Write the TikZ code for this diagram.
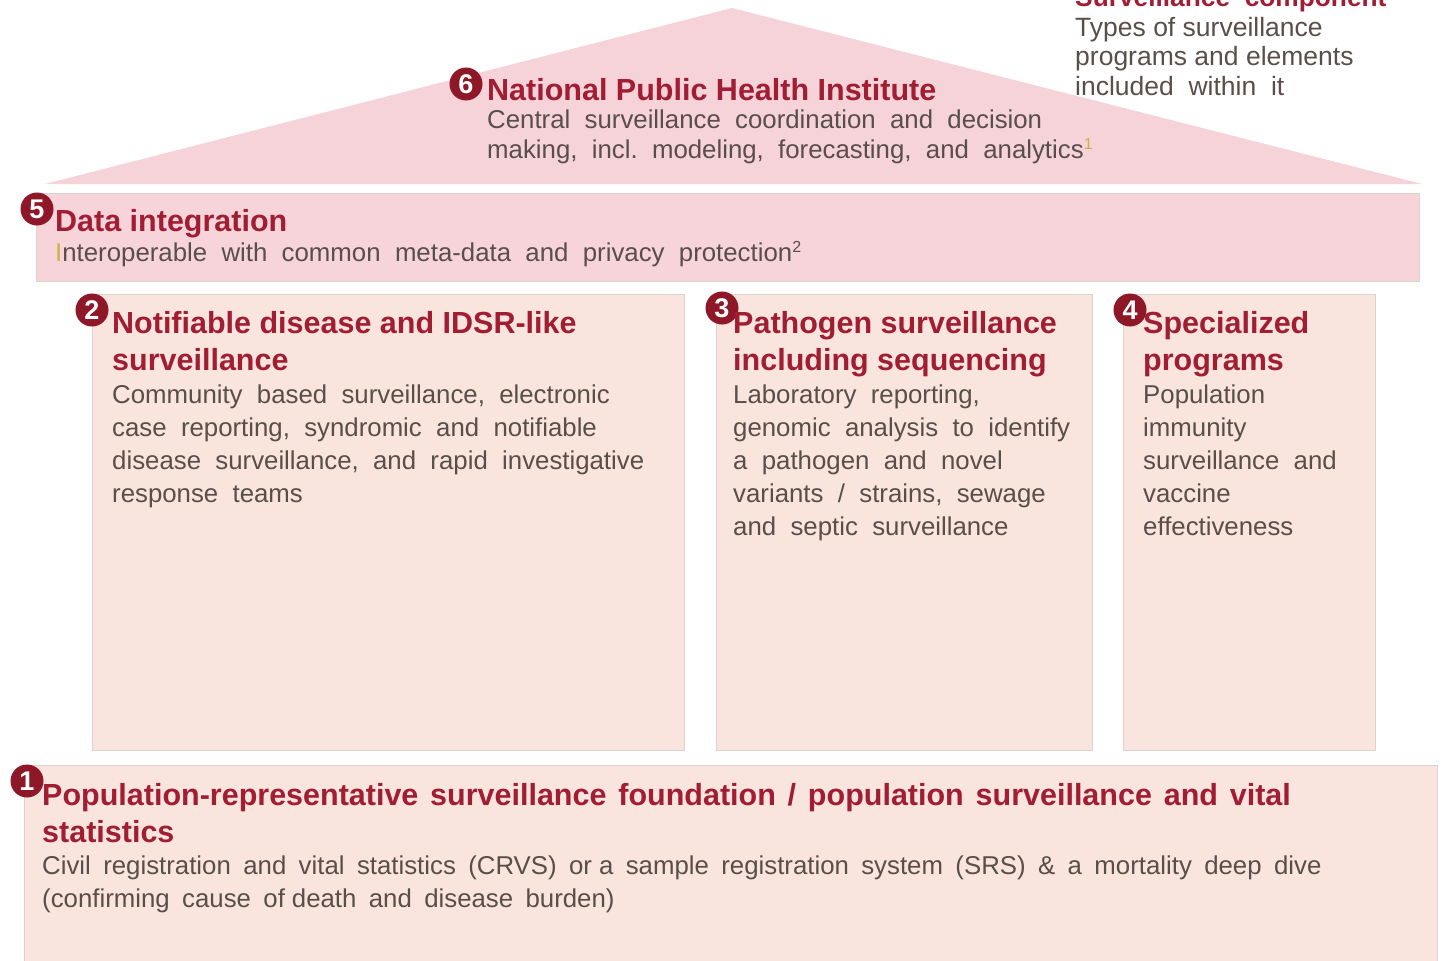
\documentclass[tikz,border=0pt]{standalone}
\usepackage{fontspec}
\setmainfont{Liberation Sans}
\definecolor{numred}{HTML}{8E1728}
\definecolor{titred}{HTML}{A01D33}
\definecolor{bodygray}{HTML}{5A4E4A}
\definecolor{roofpink}{HTML}{F5D3D8}
\definecolor{bandpink}{HTML}{F6D4D9}
\definecolor{peach}{HTML}{F9E5DD}
\definecolor{edgegray}{HTML}{DCD2CF}
\definecolor{supyellow}{HTML}{C9B24A}
\newcommand{\widesp}{\spaceskip=11.8pt\relax}
\newcommand{\bodysp}{\spaceskip=12.4pt\relax}
\begin{document}
\begin{tikzpicture}[x=1pt,y=-1pt,
  numdot/.style={circle,fill=numred,text=white,inner sep=0pt,minimum size=33pt,font=\fontsize{27}{27}\selectfont\bfseries},
  titletext/.style={anchor=base west,inner sep=0pt,text=titred,font=\fontsize{30.5}{37}\selectfont\bfseries,align=left},
  titleblock/.style={titletext,anchor=north west},
  bodytext/.style={anchor=north west,inner sep=0pt,text=bodygray,font=\fontsize{25.8}{33}\selectfont,align=left},
  pillar/.style={fill=peach,draw=edgegray,line width=0.8pt}
]
\useasboundingbox (0,0) rectangle (1444,961);
\clip (0,0) rectangle (1444,961);
% roof
\fill[roofpink] (45,184) -- (732,8) -- (1422,184) -- cycle;
% data band
\draw[fill=bandpink,draw=edgegray,line width=0.8pt] (36,193) rectangle (1419,281);
% pillars
\draw[pillar] (92,294) rectangle (684,750);
\draw[pillar] (716,294) rectangle (1092,750);
\draw[pillar] (1123,294) rectangle (1375,750);
% foundation
\draw[pillar] (24,765) rectangle (1437,975);

% top right legend
\node[titletext,font=\fontsize{26.3}{30}\selectfont\bfseries] (leghead) at (1075,6) {Surveillance\ \ component};
\node[bodytext,font=\fontsize{26.5}{29.5}\selectfont] (legbody) at (1075,17) {Types of surveillance\\programs and elements\\included\ \ within\ \ it};

% 6 NPHI
\node[numdot] (n6) at (466,84) {6};
\node[titletext] (t6) at (487,100) {National Public Health Institute};
\node[bodytext,font=\fontsize{25.8}{30}\selectfont] (b6) at (487,110) {Central\ \ surveillance\ \ coordination\ \ and\ \ decision\\making,\ \ incl.\ \ modeling,\ \ forecasting,\ \ and\ \ analytics\textsuperscript{\textcolor{supyellow}{\fontsize{16}{16}\selectfont 1}}};

% 5 Data integration
\node[numdot] (n5) at (37,209) {5};
\node[titletext] (t5) at (55,231) {Data integration};
\node[bodytext] (b5) at (55,241) {\textcolor{supyellow}{I}nteroperable\ \ with\ \ common\ \ meta-data\ \ and\ \ privacy\ \ protection\textsuperscript{\fontsize{16}{16}\selectfont 2}};

% 2
\node[numdot] (n2) at (92,310) {2};
\node[titleblock] (t2) at (112,311) {Notifiable disease and IDSR-like\\surveillance};
\node[bodytext] (b2) at (112,385) {Community\ \ based\ \ surveillance,\ \ electronic\\case\ \ reporting,\ \ syndromic\ \ and\ \ notifiable\\disease\ \ surveillance,\ \ and\ \ rapid\ \ investigative\\response\ \ teams};

% 3
\node[numdot] (n3) at (722,308) {3};
\node[titleblock] (t3) at (733,311) {Pathogen surveillance\\including sequencing};
\node[bodytext] (b3) at (733,385) {Laboratory\ \ reporting,\\genomic\ \ analysis\ \ to\ \ identify\\a\ \ pathogen\ \ and\ \ novel\\variants\ \ /\ \ strains,\ \ sewage\\and\ \ septic\ \ surveillance};

% 4
\node[numdot] (n4) at (1130,310) {4};
\node[titleblock] (t4) at (1143,311) {Specialized\\programs};
\node[bodytext] (b4) at (1143,385) {Population\\immunity\\surveillance\ \ and\\vaccine\\effectiveness};

% 1
\node[numdot] (n1) at (27,781) {1};
\node[titleblock] (t1) at (42,783) {\widesp Population-representative surveillance foundation / population surveillance and vital\\statistics};
\node[bodytext] (b1) at (42,856) {\bodysp Civil registration and vital statistics (CRVS) or\hspace{7pt}a sample registration system (SRS) \& a mortality deep dive\\\bodysp (confirming cause of\hspace{7pt}death and disease burden)};
\end{tikzpicture}
\end{document}
